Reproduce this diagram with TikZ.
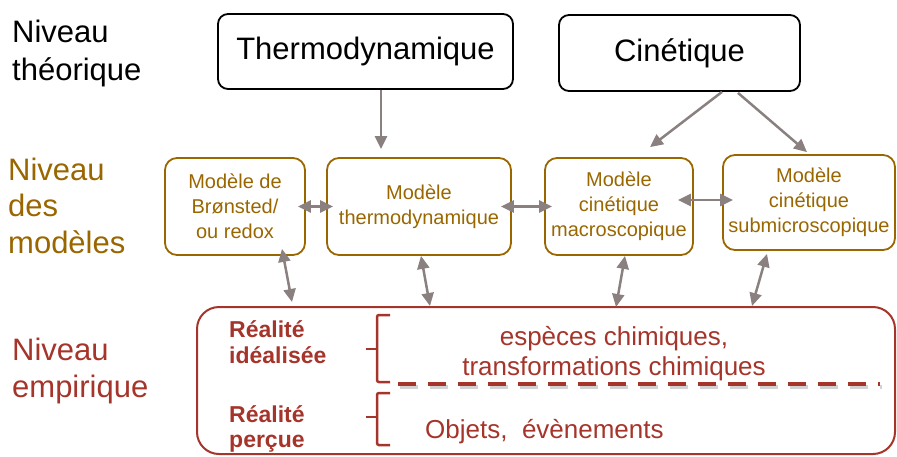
\documentclass[tikz,border=0pt]{standalone}
\usepackage{fontspec}
\setmainfont{Liberation Sans}
\usetikzlibrary{arrows.meta,calc}
\definecolor{brownc}{RGB}{153,102,0}
\definecolor{redc}{RGB}{165,52,42}
\definecolor{greyc}{RGB}{138,128,128}
\begin{document}
\begin{tikzpicture}[x=1pt,y=-1pt,
  theo/.style={draw=black, line width=1.8pt, rounded corners=10pt, inner sep=0pt, font=\fontsize{31}{38}\selectfont},
  mod/.style={draw=brownc, line width=1.8pt, rounded corners=12pt, inner sep=0pt, text=brownc, align=center, font=\fontsize{20}{25}\selectfont},
  lvl/.style={anchor=base west, align=left, inner sep=0pt, font=\fontsize{31}{37}\selectfont},
  real/.style={anchor=base west, align=left, inner sep=0pt, text=redc, font=\bfseries\fontsize{23}{26}\selectfont},
  emptxt/.style={inner sep=0pt, text=redc, font=\fontsize{26}{30}\selectfont},
  ar/.style={draw=greyc, line width=2.5pt, -{Triangle[length=13pt,width=12pt]}},
  dbl/.style={draw=greyc, line width=2.5pt, {Triangle[length=13pt,width=12pt]}-{Triangle[length=13pt,width=12pt]}},
  bracket/.style={draw=redc, line width=2.5pt, rounded corners=2pt},
  sep/.style={line width=4pt, dash pattern=on 18pt off 12pt}
]
\useasboundingbox (0,0) rectangle (897,456);

% level labels (anchored on the baseline of the last line)
\node[lvl, font=\fontsize{31}{38}\selectfont] (lt) at (12,80) {Niveau\\théorique};
\node[lvl, text=brownc, font=\fontsize{31}{36.5}\selectfont] (lm) at (8,253) {Niveau\\des\\modèles};
\node[lvl, text=redc] (le) at (12,397) {Niveau\\empirique};

% theory boxes
\node[theo, minimum width=295pt, minimum height=75pt] (thermo) at (365.5,51.5) {Thermodynamique};
\node[theo, minimum width=241pt, minimum height=76pt] (cin) at (679.5,53) {Cinétique};

% model boxes
\node[mod, minimum width=140pt, minimum height=97pt] (bron) at (235,206.5) {Modèle de\\Brønsted/\\ou redox};
\node[mod, minimum width=184pt, minimum height=97pt] (mth) at (419,206.5) {Modèle\\thermodynamique};
\node[mod, minimum width=148pt, minimum height=97pt] (mac) at (619,206.5) {Modèle\\cinétique\\macroscopique};
\node[mod, minimum width=172pt, minimum height=95pt] (sub) at (809,202.5) {Modèle\\cinétique\\submicroscopique};

% empirical box
\node[draw=redc, line width=2pt, rounded corners=22pt, minimum width=698pt, minimum height=147pt, inner sep=0pt] (emp) at (546,380.5) {};

\node[real] (ideal) at (229,363) {Réalité\\idéalisée};
\node[real, font=\bfseries\fontsize{23}{25}\selectfont] (perc) at (229,447) {Réalité\\perçue};
\node[emptxt, anchor=base, align=center] (esp) at (614,375) {espèces chimiques,\\transformations chimiques};
\node[emptxt, anchor=base west] (obj) at (425,438) {Objets,\ \ évènements};

% brackets
\draw[bracket] (390,315) -- (377,315) -- (377,382) -- (390,382);
\draw[bracket] (377,349) -- (366,349);
\draw[bracket] (390,393) -- (377,393) -- (377,445) -- (390,445);
\draw[bracket] (377,417) -- (366,417);

% dashed separator
\draw[sep, draw=gray!35] (400,387) -- (882,387);
\draw[sep, draw=redc] (398,384) -- (880,384);

% arrows theory -> models
\draw[ar] ($(thermo.south)+(15.5,0)$) -- ($(mth.north)+(-38,-8)$);
\draw[ar] ($(cin.south)+(42.5,0)$) -- ($(mac.north)+(31,-10)$);
\draw[ar] ($(cin.south)+(58.5,1)$) -- ($(sub.north)+(-2,-2)$);

% model <-> model
\draw[dbl] ($(bron.east)+(-8,0)$) -- ($(mth.west)+(7,0)$);
\draw[dbl] ($(mth.east)+(-11,0)$) -- ($(mac.west)+(8,0)$);
\draw[dbl] ($(mac.east)+(-16,-6.5)$) -- ($(sub.west)+(11,-2.5)$);

% model <-> empirical
\draw[dbl] ($(bron.south)+(47,-7)$) -- ($(emp.north)+(-254,-4)$);
\draw[dbl] ($(mth.south)+(2,0)$) -- ($(emp.north)+(-116,0)$);
\draw[dbl] ($(mac.south)+(6,0)$) -- ($(emp.north)+(70,1)$);
\draw[dbl] ($(sub.south)+(-42,3)$) -- ($(emp.north)+(206,0)$);
\end{tikzpicture}
\end{document}
